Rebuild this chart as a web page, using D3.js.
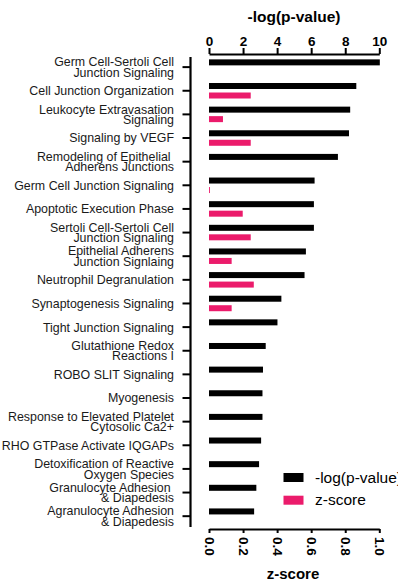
<!DOCTYPE html>
<html><head><meta charset="utf-8">
<script src="https://cdn.jsdelivr.net/npm/d3@7"></script>
<style>
body{margin:0;background:#fff;}
svg{display:block;font-family:"Liberation Sans",Arial,Helvetica,sans-serif;}
</style>
</head><body>
<svg id="chart" width="398" height="581"></svg>
<script>
const categories = [
  "Germ Cell-Sertoli Cell\nJunction Signaling",
  "Cell Junction Organization",
  "Leukocyte Extravasation\nSignaling",
  "Signaling by VEGF",
  "Remodeling of Epithelial \nAdherens Junctions",
  "Germ Cell Junction Signaling",
  "Apoptotic Execution Phase",
  "Sertoli Cell-Sertoli Cell\nJunction Signaling",
  "Epithelial Adherens\nJunction Signlaing",
  "Neutrophil Degranulation",
  "Synaptogenesis Signaling",
  "Tight Junction Signaling",
  "Glutathione Redox\nReactions I",
  "ROBO SLIT Signaling",
  "Myogenesis",
  "Response to Elevated Platelet\nCytosolic Ca2+",
  "RHO GTPase Activate IQGAPs",
  "Detoxification of Reactive\nOxygen Species",
  "Granulocyte Adhesion \n& Diapedesis",
  "Agranulocyte Adhesion\n& Diapedesis"
];
const negLogP = [10.03, 8.65, 8.29, 8.22, 7.57, 6.2, 6.16, 6.16, 5.69, 5.61, 4.25, 4.02, 3.33, 3.17, 3.14, 3.14, 3.06, 2.94, 2.78, 2.65];
const zScore  = [null, 0.245, 0.082, 0.245, null, 0.005, 0.198, 0.245, 0.133, 0.263, 0.133, null, null, null, null, null, null, null, null, null];
const pTicks = [0, 2, 4, 6, 8, 10];
const zTicks = [0, 0.2, 0.4, 0.6, 0.8, 1.0];
const seriesNames = ["-log(p-value)", "z-score"];
const seriesColors = ["#000000", "#EB1B6B"];

const svg = d3.select("#chart");
const xP = d3.scaleLinear().domain([0, 10]).range([209, 379.3]);
const xZ = d3.scaleLinear().domain([0, 1]).range([209, 379.3]);
const y = d3.scaleBand().domain(categories).range([55.3, 528]);
const yc = k => y(k) + y.bandwidth() / 2;

// bars
const rows = categories.map((k, i) => ({k, p: negLogP[i], z: zScore[i]}));
svg.append("g").selectAll("rect").data(rows).join("rect")
  .attr("x", xP(0)).attr("y", d => yc(d.k) - 7.75)
  .attr("width", d => xP(d.p) - xP(0)).attr("height", 6)
  .attr("fill", seriesColors[0]);
svg.append("g").selectAll("rect").data(rows.filter(d => d.z != null)).join("rect")
  .attr("x", xZ(0)).attr("y", d => yc(d.k) + 1.75)
  .attr("width", d => Math.max(0.9, xZ(d.z) - xZ(0))).attr("height", 6)
  .attr("fill", seriesColors[1]);

function styleAxis(g) {
  g.select(".domain").attr("stroke", "#000").attr("stroke-width", 2);
  g.selectAll(".tick line").attr("stroke", "#000").attr("stroke-width", 2);
  g.selectAll(".tick text").attr("fill", "#000").style("font-weight", "bold").style("font-size", "13.5px")
    .style("font-family", '"Liberation Sans",Arial,sans-serif');
}

// top axis
const gTop = svg.append("g").attr("transform", "translate(0,54)")
  .call(d3.axisTop(xP).tickValues(pTicks).tickSize(6).tickPadding(2).tickSizeOuter(0));
styleAxis(gTop);
svg.append("text").attr("x", 294).attr("y", 22).attr("text-anchor", "middle")
  .style("font-weight", "bold").style("font-size", "15.5px").attr("fill", "#000").text("-log(p-value)");

// bottom axis
const gBot = svg.append("g").attr("transform", "translate(0,529)")
  .call(d3.axisBottom(xZ).tickValues(zTicks).tickFormat(d3.format(".1f")).tickSize(4).tickSizeOuter(0));
styleAxis(gBot);
gBot.selectAll(".tick text").attr("transform", "rotate(90)").attr("x", 8).attr("y", 0)
  .attr("dy", "0.36em").style("text-anchor", "start");
svg.append("text").attr("x", 293).attr("y", 579).attr("text-anchor", "middle")
  .style("font-weight", "bold").style("font-size", "15px").attr("fill", "#000").text("z-score");

// left axis
const gLeft = svg.append("g").attr("transform", "translate(190.5,0)")
  .call(d3.axisLeft(y).tickSize(8).tickSizeOuter(0).tickFormat(""));
gLeft.select(".domain").remove();
gLeft.selectAll(".tick line").attr("stroke", "#000").attr("stroke-width", 2);
gLeft.append("line").attr("x1", 0).attr("x2", 0).attr("y1", 57).attr("y2", 527)
  .attr("stroke", "#000").attr("stroke-width", 2.2);

// category labels
const fs = 12.4, lineH = 10.3, capH = 0.716 * fs;
const lab = svg.append("g").attr("fill", "#1a1a1a").style("font-size", fs + "px").style("white-space", "pre");
categories.forEach(k => {
  const lines = k.split("\n");
  const n = lines.length;
  const t = lab.append("text").attr("text-anchor", "end");
  lines.forEach((ln, i) => {
    t.append("tspan").attr("x", 174)
      .attr("y", yc(k) + capH / 2 + (i - (n - 1) / 2) * lineH)
      .text(ln);
  });
});

// legend
const leg = svg.append("g");
seriesNames.forEach((nm, i) => {
  leg.append("rect").attr("x", 283.5).attr("y", 473 + i * 22.7).attr("width", 20).attr("height", 9)
    .attr("fill", seriesColors[i]);
  leg.append("text").attr("x", 315).attr("y", 482.5 + i * 22.2).style("font-size", "15.5px")
    .attr("fill", "#000").text(nm);
});
</script>
</body></html>
